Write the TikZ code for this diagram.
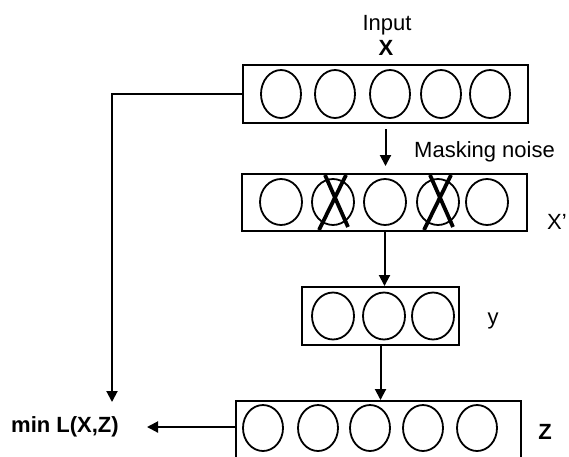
\documentclass[tikz,border=0pt]{standalone}
\usepackage{fontspec}
\setmainfont{Liberation Sans}
\usetikzlibrary{shapes.geometric,arrows.meta}
\begin{document}
\begin{tikzpicture}[x=1pt,y=-1pt,
 box/.style={draw, line width=2pt, inner sep=0pt, rectangle},
 cell/.style={draw, ellipse, line width=1.8pt, inner sep=0pt},
 lbl/.style={font=\fontsize{22}{26}\selectfont, inner sep=0pt, anchor=base},
 blbl/.style={lbl, font=\fontsize{22}{26}\selectfont\bfseries},
 conn/.style={line width=2pt},
 arr/.style={conn, -{Triangle[width=11pt,length=11pt]}},
 cross/.style={line width=3.8pt}]
\useasboundingbox (0,0) rectangle (569,456);

% layer boxes
\node[box, minimum width=285pt, minimum height=58pt] (xbox) at (385.5,94) {};
\node[box, minimum width=285pt, minimum height=57pt] (xpbox) at (384.5,202.5) {};
\node[box, minimum width=157pt, minimum height=58pt] (ybox) at (380.5,316) {};
\node[box, minimum width=285pt, minimum height=61pt] (zbox) at (378.5,431.5) {};

% input cells
\foreach \cx [count=\i] in {281,335,390,441,490}
  \node[cell, minimum width=40pt, minimum height=48pt] (x\i) at (\cx,94) {};
% corrupted cells
\foreach \cx [count=\i] in {281,333,385,438,487}
  \node[cell, minimum width=42pt, minimum height=46pt] (xp\i) at (\cx,202) {};
% hidden cells
\foreach \cx [count=\i] in {333,384,433}
  \node[cell, minimum width=42pt, minimum height=47pt] (y\i) at (\cx,316) {};
% output cells
\foreach \cx [count=\i] in {263,318,370,423,477}
  \node[cell, minimum width=40pt, minimum height=46pt] (z\i) at (\cx,428) {};

% masking crosses
\foreach \n in {xp2,xp4}{
  \draw[cross] ([shift={(-14,28)}]\n.center) -- ([shift={(13,-27)}]\n.center);
  \draw[cross] ([shift={(-8,-27)}]\n.center) -- ([shift={(15,25)}]\n.center);
}

% labels
\node[lbl] (inp) at (387,30) {Input};
\node[blbl] (xl) at (386,55) {X};
\node[lbl, anchor=base west] (mask) at (414,157) {Masking noise};
\node[lbl] (xpl) at (557,229) {X’};
\node[lbl] (yl) at (493,324) {y};
\node[blbl] (zl) at (545,439) {Z};
\node[blbl, anchor=base west] (minl) at (11,432) {min L(X,Z)};

% connectors
\draw[arr, shorten <=5pt, shorten >=7pt] (xbox.south) -- (xbox.south |- xpbox.north);
\draw[arr] (xpbox.south) -- (xpbox.south |- ybox.north);
\draw[arr] (ybox.south) -- (ybox.south |- zbox.north);
\coordinate (losstip) at (112,402);
\draw[arr] (xbox.west) -| (losstip);
\coordinate (mintip) at (147,427);
\draw[arr] (zbox.west |- mintip) -- (mintip);
\end{tikzpicture}
\end{document}
